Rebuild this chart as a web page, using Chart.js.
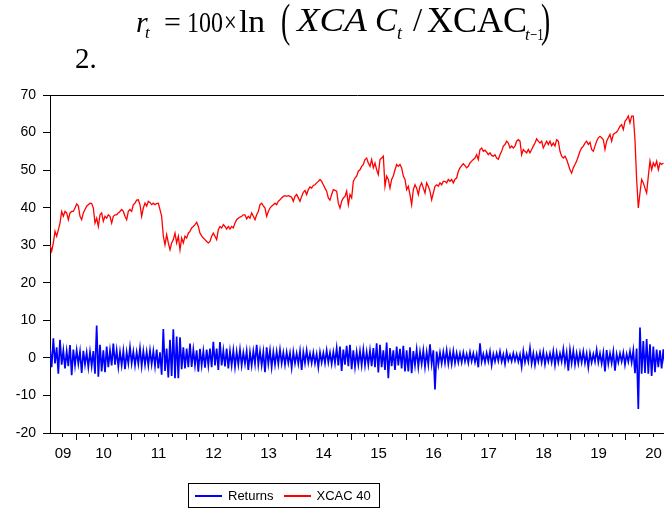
<!DOCTYPE html>
<html><head><meta charset="utf-8">
<script src="https://cdn.jsdelivr.net/npm/chart.js@4"></script>
<style>
html,body{margin:0;padding:0;background:#fff;}
#wrap{position:relative;width:664px;height:509px;overflow:hidden;background:#fff;}
#c{position:absolute;left:0;top:0;}
#eq .p, .serif{position:absolute;font-family:'Liberation Serif','Times New Roman',serif;color:#000;white-space:nowrap;line-height:1;transform-origin:0 0;}
#legend{position:absolute;left:188px;top:483px;width:184px;height:23px;border:1px solid #000;font:13px 'Liberation Sans',Arial,sans-serif;color:#000;display:flex;align-items:center;padding:0 0 0 6px;box-sizing:content-box;white-space:nowrap;overflow:hidden;}
#legend .item{display:flex;align-items:center;margin-right:10px;flex:none;white-space:nowrap;}
#legend .item:last-child{margin-right:0;}
#legend .ln{display:inline-block;width:27px;height:2px;margin-right:6px;flex:none;}
</style></head><body>
<div id="wrap">
<canvas id="c" width="664" height="509"></canvas>
<div id="eq" aria-label="r_t = 100 × ln(XCAC_t / XCAC_{t−1})"></div>
<div class="serif" style="left:75px;top:44px;font-size:29px;">2.</div>
<div id="legend"></div>
</div>
<script>
// ---- data ----
const seriesNames = ['Returns', 'XCAC 40'];
const seriesColors = ['#0000ff', '#ff0000'];
const startYear = 2009.527;       // first observation (mid 2009)
const endYear = 2020.691;         // right edge of the plot
const stepYears = 1 / 33;         // spacing between sampled observations
const yearLabels = ['09','10','11','12','13','14','15','16','17','18','19','20'];
const labelYears = [2009,2010,2011,2012,2013,2014,2015,2016,2017,2018,2019,2020];
const yTicks = [-20,-10,0,10,20,30,40,50,60,70];

const returnsValues = [
2.7,-2.5, 5.2,-1.5, 2.8,-4.2, 4.8,-1.8, 2.0,-2.8, 1.8,-2.2, 3.4,-4.6, 2.2,-2.0, 2.0,-1.6, 1.7,-4.0,
1.9,-1.8, 1.4,-2.5, 1.6,-2.2, 1.8,-4.2, 8.6,-5.0, 3.5,-3.6, 2.0,-3.8, 3.0,-2.5, 2.0,-2.0, 3.8,-1.8,
2.0,-2.4, 1.6,-2.0, 1.9,-3.0, 1.5,-1.5, 2.8,-1.5, 1.7,-2.0, 1.5,-1.6, 2.5,-2.2, 1.8,-1.8, 1.6,-2.0,
2.0,-1.7, 1.8,-2.2, 2.2,-2.8, 1.5,-4.5, 7.7,-3.5, 2.5,-5.2, 4.8,-4.8, 7.6,-5.4, 5.7,-5.4, 5.5,-3.0,
2.8,-2.8, 2.5,-2.5, 3.8,-2.4, 2.2,-2.0, 2.0,-3.7, 2.4,-2.0, 1.8,-2.6, 2.2,-2.0, 2.5,-2.5, 4.3,-2.0,
2.5,-3.2, 4.2,-2.0, 2.0,-2.3, 2.5,-2.8, 1.8,-2.0, 2.0,-2.4, 1.6,-1.8, 2.2,-2.0, 1.4,-1.6, 1.8,-3.2,
1.5,-2.0, 1.8,-1.6,
3.5,-1.8, 1.8,-2.0, 1.6,-3.8, 2.8,-1.6, 2.0,-2.5, 1.6,-1.8, 1.7,-1.6, 2.2,-1.5, 1.4,-1.8, 1.5,-1.4,
1.3,-2.6, 1.6,-1.5, 1.2,-1.6, 1.8,-3.2, 1.5,-1.4, 2.0,-1.3, 1.2,-1.4, 1.4,-1.5, 1.0,-2.5, 1.5,-1.2,
1.3,-1.4, 2.0,-1.2, 1.4,-1.6, 1.6,-1.4, 2.6,-2.0, 3.0,-3.5, 2.2,-1.8, 3.2,-2.2, 3.5,-3.0, 2.0,-2.4,
1.6,-1.8, 1.8,-2.0, 2.2,-2.0, 1.6,-1.8, 2.0,-2.2, 2.6,-2.5, 3.9,-3.9, 3.5,-2.5, 2.0,-3.2, 4.1,-5.4,
2.6,-2.2, 2.0,-3.2, 3.0,-2.0, 2.4,-2.8, 3.2,-3.6, 2.0,-3.6, 2.8,-4.1, 1.8,-2.0, 2.2,-2.4, 1.6,-1.6,
2.0,-2.4, 1.5,-1.8, 3.6,-1.6, 2.0,-8.4, 1.7,-1.8, 1.4,-1.5, 1.6,-1.4, 2.0,-1.6, 1.5,-1.6, 1.8,-1.4,
1.3,-1.2,
1.2,-1.2, 1.4,-1.0, 1.0,-1.3, 1.5,-0.9, 1.2,-1.2, 1.0,-2.5, 3.9,-1.0, 1.0,-1.2, 1.3,-0.9, 1.7,-1.9,
1.0,-1.0, 1.2,-0.8, 1.7,-1.0, 0.9,-1.6, 1.5,-0.7, 0.8,-0.9, 1.2,-0.8, 1.0,-1.0, 0.9,-2.3, 1.8,-1.2,
1.0,-1.0, 2.6,-1.5, 1.2,-1.9, 1.0,-1.0, 1.4,-1.2, 1.6,-1.7, 1.0,-1.0, 1.2,-1.2, 1.8,-1.9, 1.4,-1.2,
1.2,-1.0, 2.3,-1.5, 1.4,-3.4, 2.1,-1.4, 1.9,-1.8, 1.2,-1.5, 1.4,-1.2, 1.7,-1.4, 1.1,-2.5, 1.3,-1.2,
1.0,-1.0, 2.1,-1.2, 1.2,-1.5, 1.4,-3.6, 2.1,-1.6, 1.2,-1.4, 1.7,-3.4, 1.0,-1.2, 1.2,-1.0, 1.4,-1.8,
1.0,-1.0, 1.7,-1.2, 2.0,-4.1, 2.5,-13.6, 8.1,-4.2, 4.5,-4.0, 5.0,-4.2, 3.6,-4.8, 3.0,-3.8, 2.2,-2.5,
2.0,-2.8, 2.3,-2.2
];

const xcacValues = [
30.1,28.4,30.6,33.7,32.4,34.1,35.9,39.0,37.7,39.0,
38.6,36.8,38.6,39.0,39.0,39.9,41.0,40.5,37.7,36.8,
38.6,39.5,40.4,40.8,41.2,41.1,39.9,35.9,37.2,35.0,
38.1,38.6,36.4,37.7,37.2,38.1,37.7,35.9,37.7,38.1,
38.1,38.6,39.0,39.5,39.0,37.7,36.8,39.0,39.5,39.0,
40.8,41.2,42.0,42.1,40.8,37.7,39.9,41.2,40.4,41.7,
41.4,40.8,41.2,40.8,41.1,41.2,39.5,37.7,32.4,30.1,
32.8,30.6,28.8,30.6,31.5,33.2,30.6,32.4,28.8,31.9,
30.6,32.4,31.9,33.2,33.7,34.6,35.0,35.5,36.1,35.0,
33.2,32.5,31.9,31.5,31.0,30.6,31.0,32.4,33.2,32.4,
31.5,34.1,35.0,34.6,35.5,35.0,34.3,35.0,34.3,35.0,
34.6,35.9,36.8,37.2,37.5,37.7,38.1,38.1,37.0,37.7,
37.2,38.6,37.7,36.8,38.1,39.0,40.8,41.2,40.5,39.9,
37.7,39.0,39.9,40.4,40.8,41.2,40.8,41.7,42.1,42.6,
43.0,43.2,43.0,43.2,43.0,42.8,41.7,43.0,43.5,42.6,
41.7,43.0,44.1,44.6,43.5,44.8,45.5,45.2,45.9,46.1,
46.6,47.0,47.5,47.0,46.1,45.2,44.4,42.6,42.0,
43.5,44.8,44.6,44.4,41.2,39.9,41.7,42.6,43.0,44.4,
40.8,43.5,42.6,47.0,47.9,48.4,49.7,50.1,51.0,51.5,
52.8,53.2,51.9,51.0,52.8,50.6,51.9,50.1,48.8,52.8,
53.2,53.7,45.7,48.4,47.5,45.2,47.5,48.4,50.1,51.5,
51.0,51.5,50.6,48.4,47.5,44.8,45.7,43.5,40.8,44.8,
46.1,45.2,43.5,45.7,46.6,45.2,43.9,46.6,45.7,44.4,
42.1,43.9,45.7,46.1,45.7,46.6,46.1,47.0,47.0,46.6,
47.5,47.0,47.5,46.6,47.6,47.9,49.7,50.6,51.2,51.7,
51.2,50.6,51.0,51.9,52.4,52.8,53.2,54.1,52.8,55.5,
55.9,55.0,55.3,54.8,54.1,54.6,53.9,53.7,54.1,53.2,
52.9,54.1,55.0,56.4,56.8,57.7,57.2,55.9,56.4,55.9,
56.4,57.7,58.1,57.7,54.1,55.5,55.0,54.6,55.5,54.6,
55.5,56.4,57.2,58.3,57.7,57.2,57.7,55.9,56.8,57.7,
56.8,57.7,56.5,57.2,56.4,58.1,57.7,55.0,53.7,53.2,
53.7,52.8,51.5,50.1,49.2,50.6,51.5,52.4,53.7,55.0,
55.9,56.4,57.2,57.7,56.8,57.4,55.5,55.0,56.4,57.7,
58.6,59.0,58.6,58.1,55.5,57.7,58.6,59.5,57.7,59.5,
59.9,60.1,60.8,61.7,62.1,60.8,63.0,63.6,64.4,62.6,
64.4,64.4,58.1,47.5,39.9,43.9,47.5,46.6,45.2,43.9,
48.4,52.4,50.1,51.9,51.0,52.4,50.1,51.9,51.5,51.9
];

// ---- formula text pieces (text, left, baseline, font size, italic, scaleX, scaleY) ----
const eqPieces = [
  ['r', 136, 32, 30, true, 1, 1],
  ['t', 145, 38, 17, true, 1, 1],
  ['=', 164, 32, 30, false, 1, 1],
  ['100', 187, 32, 30, false, 0.8, 1],
  ['×', 224, 32, 30, false, 0.75, 1],
  ['ln', 239, 32, 32, false, 1.05, 1],
  ['(', 281, 37, 46, false, 0.6, 1],
  ['XCA', 297, 32, 33, true, 1.12, 1],
  ['C', 375, 32, 33, true, 1, 1],
  ['t', 397, 39, 18, true, 1, 1],
  ['/', 413, 32, 33, false, 1, 1],
  ['XCAC', 427, 32, 35, false, 1.03, 1],
  ['t', 525, 40, 17, true, 1, 1],
  ['−1', 530, 40, 17, false, 0.75, 1],
  [')', 541, 37, 46, false, 0.6, 1]
];
const eq = document.getElementById('eq');
eqPieces.forEach(([txt, left, base, size, it, sx, sy]) => {
  const s = document.createElement('span');
  s.className = 'p';
  s.textContent = txt;
  s.style.fontSize = size + 'px';
  s.style.left = left + 'px';
  s.style.top = (base - 0.8375 * size) + 'px';
  if (it) s.style.fontStyle = 'italic';
  s.style.transform = 'scale(' + sx + ',' + sy + ')';
  eq.appendChild(s);
});

// ---- build ----
const toPoints = vals => vals.map((v, i) => ({ x: startYear + i * stepYears, y: v }));
const yFont = { family: "'Liberation Sans', Arial, sans-serif", size: 14 };
const xFont = { family: "'Liberation Sans', Arial, sans-serif", size: 15 };

function buildXTicks(scale) {
  const ticks = [];
  for (let yr = labelYears[0]; yr <= labelYears[labelYears.length - 1] + 1; yr++) {
    for (let q = 0; q < 4; q++) {
      const v = yr + q / 4;
      if (v >= scale.min && v <= scale.max) ticks.push({ value: v, kind: q === 0 ? 'major' : 'minor' });
    }
  }
  labelYears.forEach((yr, i) => {
    const lo = Math.max(yr, scale.min), hi = Math.min(yr + 1, scale.max);
    let pos = yr + 0.5;
    if (pos < scale.min || pos > scale.max) pos = (lo + hi) / 2;
    const existing = ticks.find(t => Math.abs(t.value - pos) < 1e-6);
    if (existing) existing.label = yearLabels[i];
    else ticks.push({ value: pos, kind: 'label', label: yearLabels[i] });
  });
  ticks.sort((a, b) => a.value - b.value);
  scale.ticks = ticks;
}

const chart = new Chart(document.getElementById('c'), {
  type: 'line',
  data: {
    datasets: [
      { label: seriesNames[0], data: toPoints(returnsValues), borderColor: seriesColors[0], backgroundColor: seriesColors[0], borderWidth: 1.7, pointRadius: 0, tension: 0, fill: false },
      { label: seriesNames[1], data: toPoints(xcacValues), borderColor: seriesColors[1], backgroundColor: seriesColors[1], borderWidth: 1.3, pointRadius: 0, tension: 0, fill: false }
    ]
  },
  options: {
    responsive: false,
    animation: false,
    events: [],
    layout: { padding: { top: 95, left: 0, right: 0, bottom: 0 } },
    plugins: { legend: { display: false }, tooltip: { enabled: false } },
    scales: {
      x: {
        type: 'linear', position: 'bottom', min: startYear, max: endYear,
        afterBuildTicks: buildXTicks,
        afterFit: s => { s.height = 76; s.paddingLeft = 0; s.paddingRight = 0; },
        border: { display: true, color: '#000', width: 1 },
        grid: {
          display: true, drawOnChartArea: false, drawTicks: true, tickLength: 7,
          tickColor: ctx => (ctx.tick && ctx.tick.kind === 'label') ? 'rgba(0,0,0,0)' : '#000',
          tickBorderDash: ctx => (ctx.tick && ctx.tick.kind === 'minor') ? [3, 50] : []
        },
        ticks: {
          autoSkip: false, maxRotation: 0, minRotation: 0, padding: 5, color: '#000', font: xFont,
          callback: function (value, index, ticks) { return ticks[index].label || ''; }
        }
      },
      xTop: {
        type: 'linear', position: 'top', min: startYear, max: endYear,
        afterFit: s => { s.height = 0; },
        border: { display: true, color: '#000', width: 1 },
        grid: { display: true, drawOnChartArea: false, drawTicks: false },
        ticks: { display: false }
      },
      y: {
        type: 'linear', position: 'left', min: yTicks[0], max: yTicks[yTicks.length - 1],
        afterBuildTicks: s => { s.ticks = yTicks.map(v => ({ value: v })); },
        afterFit: s => { s.width = 50; },
        border: { display: true, color: '#000', width: 1 },
        grid: { display: true, drawOnChartArea: false, drawTicks: true, tickLength: 7, tickColor: '#000' },
        ticks: { padding: 7, color: '#000', font: yFont, callback: v => String(v) }
      }
    }
  }
});

// legend built from the chart's datasets
const lg = document.getElementById('legend');
chart.data.datasets.forEach(ds => {
  const it = document.createElement('span');
  it.className = 'item';
  const ln = document.createElement('span');
  ln.className = 'ln';
  ln.style.backgroundColor = ds.borderColor;
  const tx = document.createElement('span');
  tx.textContent = ds.label;
  it.appendChild(ln); it.appendChild(tx);
  lg.appendChild(it);
});
</script>
</body></html>
